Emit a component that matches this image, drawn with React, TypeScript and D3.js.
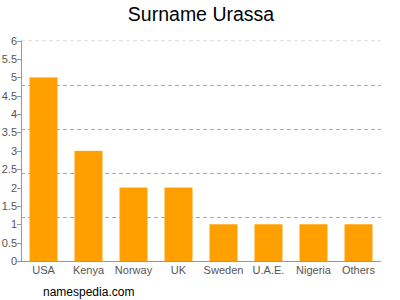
import React from "react";
import * as d3 from "d3";

const categories = ["USA", "Kenya", "Norway", "UK", "Sweden", "U.A.E.", "Nigeria", "Others"];
const values = [5, 3, 2, 2, 1, 1, 1, 1];
const yTicks = [0, 0.5, 1, 1.5, 2, 2.5, 3, 3.5, 4, 4.5, 5, 5.5, 6];
const gridValues = [1.2, 2.4, 3.6, 4.8];

export default function App() {
  const W = 400, H = 300;
  const left = 21, right = 381, top = 40.7, bottom = 261;
  const x = d3.scaleBand().domain(categories).range([left, right]).paddingInner(0.378).paddingOuter(0.189);
  const y = d3.scaleLinear().domain([0, 6]).range([bottom, top]);
  const font = "Liberation Sans, Arial, sans-serif";
  return (
    <svg width={W} height={H} style={{ position: "absolute", left: 0, top: 0 }}>
      <rect width={W} height={H} fill="#fff" />
      <text x={201} y={20.5} textAnchor="middle" fontFamily={font} fontSize={19.5} fill="#000">Surname Urassa</text>
      <line x1={left} x2={right} y1={y(6)} y2={y(6)} stroke="#ddd" strokeDasharray="4,3" />
      {gridValues.map((g) => (
        <line key={g} x1={left} x2={right} y1={Math.round(y(g)) + 0.5} y2={Math.round(y(g)) + 0.5} stroke="#aaa" strokeDasharray="4,3" />
      ))}
      {categories.map((c, i) => (
        <rect key={c} x={x(c)} y={y(values[i])} width={x.bandwidth()} height={bottom - y(values[i])} fill="#ffa000" />
      ))}
      <line x1={left + 0.5} x2={left + 0.5} y1={top} y2={bottom} stroke="#999" />
      <line x1={left} x2={right} y1={bottom + 0.5} y2={bottom + 0.5} stroke="#999" />
      {yTicks.map((t) => (
        <g key={t}>
          <line x1={left - 4} x2={left} y1={Math.round(y(t)) + 0.5} y2={Math.round(y(t)) + 0.5} stroke="#999" />
          <text x={left - 4} y={y(t) + 4} textAnchor="end" fontFamily={font} fontSize={11} fill="#555">{t}</text>
        </g>
      ))}
      {categories.map((c) => (
        <text key={c} x={(x(c) as number) + x.bandwidth() / 2} y={274} textAnchor="middle" fontFamily={font} fontSize={11} fill="#555">{c}</text>
      ))}
      <text x={43} y={296} fontFamily={font} fontSize={12} fill="#000">namespedia.com</text>
    </svg>
  );
}
